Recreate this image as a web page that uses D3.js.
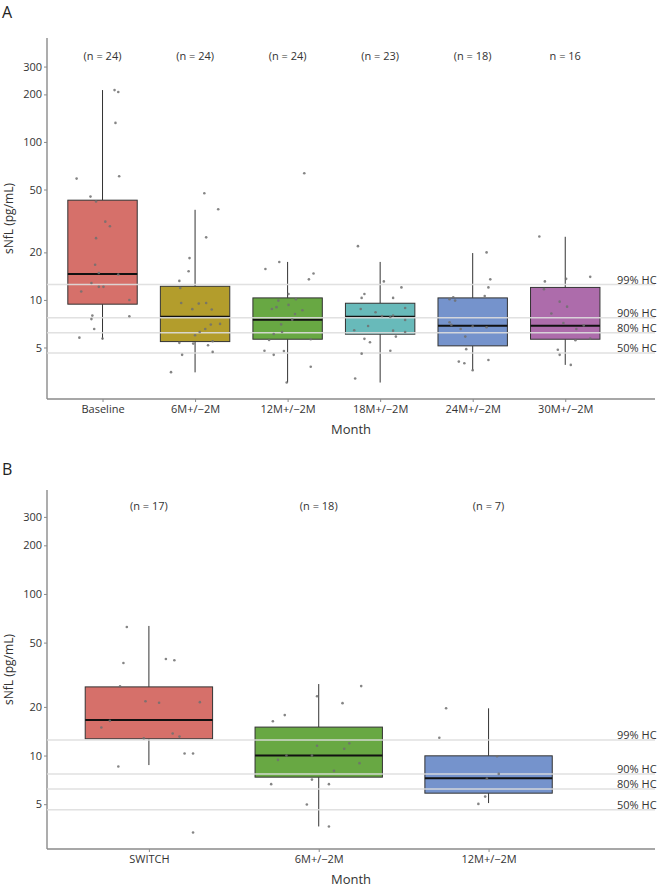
<!DOCTYPE html>
<html>
<head>
<meta charset="utf-8">
<script src="https://cdn.jsdelivr.net/npm/d3@7"></script>
<style>
  body { margin: 0; background: #fff; }
  text { font-family: "Open Sans", sans-serif; }
</style>
</head>
<body>
<svg id="chart" width="660" height="888"></svg>
<script>
// ---- data, panel A ----
var catsA = ["Baseline", "6M+/\u22122M", "12M+/\u22122M", "18M+/\u22122M", "24M+/\u22122M", "30M+/\u22122M"];
var nLabA = ["(n = 24)", "(n = 24)", "(n = 24)", "(n = 23)", "(n = 18)", "n = 16"];
var colorsA = ["#d6706a", "#b39d2c", "#68a843", "#68baba", "#7593cc", "#ad6cab"];
var loA  = [5.64, 3.48, 3.0, 3.0, 3.59, 3.88];
var q1A  = [9.4, 5.45, 5.64, 6.07, 5.12, 5.64];
var medA = [14.6, 7.84, 7.5, 7.84, 6.87, 6.87];
var q3A  = [42.8, 12.2, 10.3, 9.53, 10.3, 12.0];
var hiA  = [213, 37.2, 17.4, 17.4, 19.8, 25.1];

var ptsA = [
  [213, 207, 132, 58.6, 60.7, 45.1, 42.0, 31.3, 29.3, 24.6, 16.7, 14.8, 14.5, 12.8, 12.1, 12.1, 11.3, 10.0, 7.96, 7.56, 6.55, 5.77, 5.69, 7.89],
  [47.3, 37.5, 24.9, 18.4, 15.2, 13.2, 11.9, 9.57, 8.74, 9.48, 9.57, 8.69, 7.05, 6.98, 6.55, 6.27, 5.98, 5.48, 5.35, 5.29, 5.17, 4.69, 4.49, 3.49],
  [63.4, 17.4, 15.7, 14.7, 13.5, 10.9, 10.1, 9.9, 9.3, 8.77, 8.6, 8.15, 7.0, 6.27, 6.09, 5.58, 5.64, 4.77, 4.75, 4.49, 3.78, 3.0, 7.5, 9.0],
  [21.9, 13.1, 12.0, 10.9, 10.3, 10.3, 8.77, 8.9, 8.36, 7.96, 7.8, 7.47, 6.84, 6.43, 6.39, 6.27, 5.86, 5.67, 5.4, 4.77, 4.57, 3.18, 7.9],
  [20.0, 13.5, 12.0, 10.6, 10.4, 10.1, 9.9, 7.23, 6.95, 6.55, 6.82, 6.72, 5.86, 4.88, 4.07, 3.97, 4.17, 3.59],
  [25.2, 13.6, 14.0, 13.1, 11.7, 9.75, 9.07, 7.15, 6.55, 5.56, 5.69, 4.84, 4.49, 3.88, 6.9, 8.2]
];
var jitA = [
  [0.13, 0.17, 0.14, -0.28, 0.18, -0.13, -0.07, 0.03, 0.08, -0.07, -0.08, -0.04, 0.17, -0.12, -0.04, 0.01, -0.23, 0.29, -0.11, -0.12, -0.09, -0.25, 0.00, 0.29],
  [0.10, 0.25, 0.12, -0.06, -0.07, -0.17, -0.16, -0.15, -0.03, 0.04, 0.12, 0.18, 0.27, 0.17, 0.11, 0.05, 0.00, 0.19, -0.17, -0.02, 0.14, 0.19, -0.14, -0.26],
  [0.18, -0.09, -0.24, 0.28, 0.23, 0.01, 0.09, -0.10, 0.01, -0.17, 0.16, 0.08, -0.07, -0.06, -0.15, -0.20, 0.25, -0.25, -0.04, -0.15, 0.25, -0.01, 0.05, -0.12],
  [-0.24, 0.04, 0.23, -0.17, -0.20, 0.14, -0.21, 0.27, -0.05, 0.14, 0.11, 0.27, -0.13, -0.28, 0.14, 0.27, 0.17, -0.17, -0.11, 0.11, -0.20, -0.27, 0.02],
  [0.15, 0.19, 0.17, 0.13, -0.21, -0.25, -0.19, -0.25, -0.23, -0.13, 0.00, 0.15, -0.08, -0.07, -0.15, -0.09, 0.17, 0.00],
  [-0.28, 0.01, 0.27, -0.22, -0.23, -0.06, 0.02, -0.02, 0.12, 0.11, 0.27, -0.08, -0.06, 0.06, 0.20, -0.15]
];

// ---- data, panel B ----
var catsB = ["SWITCH", "6M+/\u22122M", "12M+/\u22122M"];
var nLabB = ["(n = 17)", "(n = 18)", "(n = 7)"];
var colorsB = ["#d6706a", "#68a843", "#7593cc"];
var loB  = [8.73, 3.64, 5.08];
var q1B  = [12.7, 7.35, 5.85];
var medB = [16.6, 10.0, 7.24];
var q3B  = [26.6, 15.0, 9.96];
var hiB  = [63.4, 27.7, 19.6];

var ptsB = [
  [62.5, 37.4, 39.6, 38.9, 26.8, 21.7, 21.2, 21.4, 16.4, 14.9, 12.8, 13.7, 13.1, 10.3, 10.3, 8.55, 3.34],
  [23.3, 17.8, 16.3, 11.5, 9.4, 10.0, 10.0, 6.65, 7.1, 6.65, 4.98, 3.64, 26.9, 21.1, 11.9, 11.0, 8.97, 8.04],
  [19.6, 12.9, 7.7, 7.2, 5.57, 5.02, 9.9]
];
var jitB = [
  [-0.13, -0.15, 0.10, 0.15, -0.17, -0.02, 0.06, 0.30, -0.23, -0.28, -0.03, 0.14, 0.18, 0.21, 0.26, -0.18, 0.26],
  [-0.01, -0.20, -0.27, -0.01, -0.24, -0.19, -0.04, -0.28, -0.04, 0.06, -0.07, 0.06, 0.25, 0.14, 0.18, 0.15, 0.24, 0.09],
  [-0.25, -0.29, 0.06, -0.01, -0.02, -0.06, 0.05]
];

// healthy control percentiles
var hcValues = [12.5, 7.7, 6.2, 4.62];
var hcLabels = ["99% HC", "90% HC", "80% HC", "50% HC"];
var yTicks = [5, 10, 20, 50, 100, 200, 300];

var svg = d3.select("#chart");

function drawPanel(p) {
  var g = svg.append("g");
  var x = d3.scaleLinear().domain([0.4, p.cats.length + p.rightPad]).range([47, 655]);
  var y = d3.scaleLog().domain(p.yDomain).range([p.bottom, p.top]);
  var bw = (x(2) - x(1)) * 0.75;

  // panel letter
  g.append("text").attr("x", 2).attr("y", p.letterY)
    .attr("font-size", 16).attr("fill", "#222").text(p.letter);

  // axes
  var yAxis = d3.axisLeft(y).tickValues(yTicks).tickFormat(d3.format("d")).tickSize(3).tickPadding(2);
  var ya = g.append("g").attr("transform", "translate(47,0)").call(yAxis);
  var xAxis = d3.axisBottom(x).tickValues(d3.range(1, p.cats.length + 1))
    .tickFormat(function(d) { return p.cats[d - 1]; }).tickSize(3).tickPadding(3);
  var xa = g.append("g").attr("transform", "translate(0," + p.bottom + ")").call(xAxis);
  [ya, xa].forEach(function(a) {
    a.select(".domain").attr("stroke", "#8a8a8a").attr("stroke-width", 1.4);
    a.selectAll(".tick line").attr("stroke", "#8a8a8a");
    a.selectAll(".tick text").attr("font-size", 11).attr("fill", "#333")
      .attr("font-family", "Open Sans, sans-serif");
  });
  // axis lines span the full panel
  ya.select(".domain").attr("d", "M0," + p.top + "V" + p.bottom);
  xa.select(".domain").attr("d", "M47,0H655");

  g.append("text").attr("x", 351).attr("y", p.bottom + 35)
    .attr("text-anchor", "middle").attr("font-size", 13).attr("fill", "#333").text("Month");
  g.append("text")
    .attr("transform", "translate(13," + ((p.top + p.bottom) / 2) + ") rotate(-90)")
    .attr("text-anchor", "middle").attr("font-size", 12).attr("fill", "#333").text("sNfL (pg/mL)");

  // boxes
  var idx = d3.range(p.cats.length);
  var box = g.selectAll(".box").data(idx).enter().append("g");
  box.append("line")
    .attr("x1", function(i) { return x(i + 1); }).attr("x2", function(i) { return x(i + 1); })
    .attr("y1", function(i) { return y(p.hi[i]); }).attr("y2", function(i) { return y(p.q3[i]); })
    .attr("stroke", "#333").attr("stroke-width", 1);
  box.append("line")
    .attr("x1", function(i) { return x(i + 1); }).attr("x2", function(i) { return x(i + 1); })
    .attr("y1", function(i) { return y(p.q1[i]); }).attr("y2", function(i) { return y(p.lo[i]); })
    .attr("stroke", "#333").attr("stroke-width", 1);
  box.append("rect")
    .attr("x", function(i) { return x(i + 1) - bw / 2; })
    .attr("width", bw)
    .attr("y", function(i) { return y(p.q3[i]); })
    .attr("height", function(i) { return y(p.q1[i]) - y(p.q3[i]); })
    .attr("fill", function(i) { return p.colors[i]; })
    .attr("stroke", "#333").attr("stroke-width", 1);
  box.append("line")
    .attr("x1", function(i) { return x(i + 1) - bw / 2; }).attr("x2", function(i) { return x(i + 1) + bw / 2; })
    .attr("y1", function(i) { return y(p.med[i]); }).attr("y2", function(i) { return y(p.med[i]); })
    .attr("stroke", "#111").attr("stroke-width", 2);

  // HC reference lines
  g.selectAll(".hc").data(hcValues).enter().append("line")
    .attr("x1", 47).attr("x2", 655)
    .attr("y1", function(d) { return y(d); }).attr("y2", function(d) { return y(d); })
    .attr("stroke", "#dedede").attr("stroke-width", 1.5).attr("opacity", 0.9);
  g.selectAll(".hcl").data(hcValues).enter().append("text")
    .attr("x", 617).attr("y", function(d) { return y(d) - 1; })
    .attr("font-size", 11).attr("fill", "#333")
    .text(function(d, i) { return hcLabels[i]; });

  // jittered points
  idx.forEach(function(i) {
    g.selectAll(null).data(p.pts[i]).enter().append("circle")
      .attr("cx", function(d, j) { return x(i + 1 + p.jit[i][j]); })
      .attr("cy", function(d) { return y(d); })
      .attr("r", 1.3).attr("fill", "#707070").attr("opacity", 0.85);
  });

  // n labels
  g.selectAll(".n").data(p.nLab).enter().append("text")
    .attr("x", function(d, i) { return x(i + 1); })
    .attr("y", p.nY)
    .attr("text-anchor", "middle").attr("font-size", 11).attr("fill", "#333")
    .text(function(d) { return d; });
}

drawPanel({
  letter: "A", letterY: 18, cats: catsA, nLab: nLabA, colors: colorsA,
  lo: loA, q1: q1A, med: medA, q3: q3A, hi: hiA, pts: ptsA, jit: jitA,
  yDomain: [2.36, 455], top: 38, bottom: 399, nY: 60, rightPad: 0.97
});
drawPanel({
  letter: "B", letterY: 475, cats: catsB, nLab: nLabB, colors: colorsB,
  lo: loB, q1: q1B, med: medB, q3: q3B, hi: hiB, pts: ptsB, jit: jitB,
  yDomain: [2.64, 440], top: 490, bottom: 849, nY: 510, rightPad: 0.98
});
</script>
</body>
</html>
